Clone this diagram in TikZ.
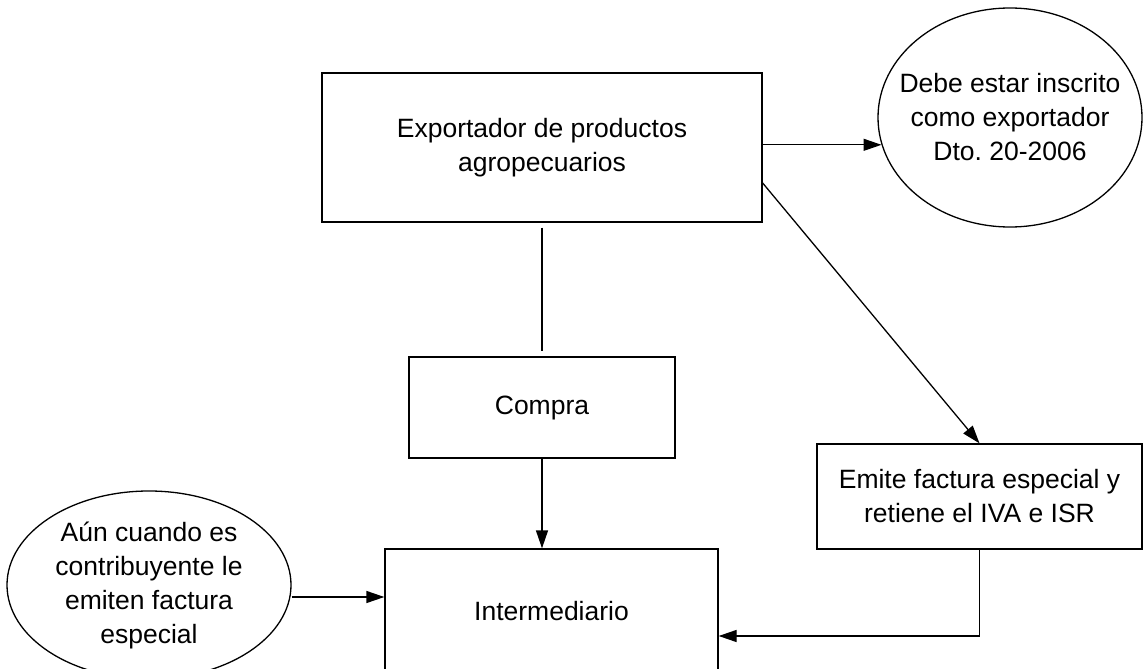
\documentclass[tikz,border=0pt]{standalone}
\usepackage{fontspec}
\setmainfont{Liberation Sans}
\usetikzlibrary{shapes.geometric, arrows.meta, calc}

\begin{document}
\begin{tikzpicture}[x=1pt, y=-1pt, line width=1.3pt,
    box/.style={draw, rectangle, inner sep=0pt, align=center},
    oval/.style={draw, ellipse, inner sep=0pt},
    arr/.style={-{Triangle[length=18pt, width=12pt]}},
    font=\fontsize{26.5}{34}\selectfont]
    \useasboundingbox (0,0) rectangle (1144,669);
    \clip (0,0) rectangle (1144,669);

    % Boxes
    \node[box, minimum width=440, minimum height=149] (expo) at (542,147.5)
        {Exportador de productos\\agropecuarios};
    \node[box, minimum width=266, minimum height=101] (compra) at (542,407.5) {Compra};
    \node[box, minimum width=333, minimum height=124] (inter) at (551.5,611) {Intermediario};
    \node[box, minimum width=325, minimum height=105] (emite) at (979.5,496.5)
        {Emite factura especial y\\retiene el IVA e ISR};

    % Ovals
    \node[oval, minimum width=264, minimum height=219] (debe) at (1010,117.5) {};
    \node[align=center] (debetxt) at (debe.center)
        {Debe estar inscrito\\como exportador\\Dto.\ 20-2006};
    \node[oval, minimum width=284, minimum height=188] (aun) at (149,585) {};
    \node[align=center] (auntxt) at (aun.center)
        {A\'un cuando es\\contribuyente le\\emiten factura\\especial};

    % Connectors
    \draw[arr] (expo.east |- debe.192.5) -- (debe.192.5);
    \draw ([yshift=-5pt]expo.south) -- ([yshift=5pt]compra.north);
    \draw[arr] ([yshift=-35.5pt]expo.east) -- (emite.north);
    \draw[arr] (compra.south) -- (compra.south |- inter.north);
    \draw[arr] (emite.south) |- ([yshift=-25pt]inter.east);
    \draw[arr] ([yshift=-12pt]aun.east) -- ([yshift=-12pt]aun.east -| inter.west);
\end{tikzpicture}
\end{document}
